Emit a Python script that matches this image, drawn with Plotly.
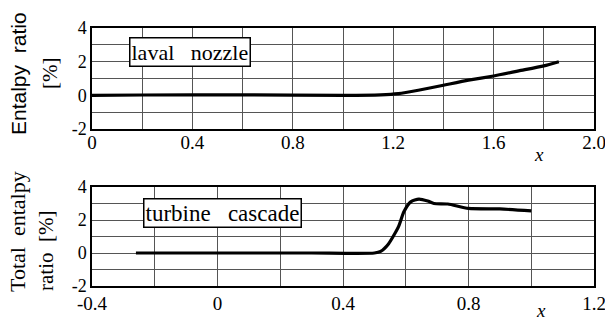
import plotly.graph_objects as go

# Top panel: laval nozzle
nozzle_x = [0.0, 0.2, 0.6, 1.0, 1.15, 1.22, 1.3, 1.4, 1.5, 1.6, 1.7, 1.8, 1.86]
nozzle_y = [0.0, 0.02, 0.03, 0.0, 0.03, 0.1, 0.3, 0.6, 0.9, 1.15, 1.45, 1.75, 2.0]

# Bottom panel: turbine cascade
cascade_x = [-0.26, 0.0, 0.3, 0.5, 0.52, 0.545, 0.577, 0.594, 0.616, 0.642, 0.67, 0.69, 0.734, 0.8, 0.9, 1.0]
cascade_y = [0.0, 0.0, 0.0, 0.0, 0.1, 0.55, 1.6, 2.5, 3.1, 3.27, 3.15, 3.0, 2.97, 2.7, 2.67, 2.55]

top_xticks = [0, 0.4, 0.8, 1.2, 1.6, 2.0]
top_xlabels = ["0", "0.4", "0.8", "1.2", "1.6", "2.0"]
bot_xticks = [-0.4, 0, 0.4, 0.8, 1.2]
bot_xlabels = ["-0.4", "0", "0.4", "0.8", "1.2"]
yticks = [-2, 0, 2, 4]
ylabels = ["-2", "0", "2", "4"]

W, H = 605, 321
def px(xp):
    return xp / W
def py(yp):
    return 1 - yp / H

serif = "Liberation Serif, Times New Roman, serif"
sans = "Liberation Sans, Arial, sans-serif"

fig = go.Figure()
fig.add_trace(go.Scatter(x=nozzle_x, y=nozzle_y, mode="lines",
                         line=dict(color="black", width=3.2, shape="spline", smoothing=0.6),
                         xaxis="x", yaxis="y", showlegend=False))
fig.add_trace(go.Scatter(x=cascade_x, y=cascade_y, mode="lines",
                         line=dict(color="black", width=3.2, shape="spline", smoothing=0.6),
                         xaxis="x2", yaxis="y2", showlegend=False))

def axis(size, **kw):
    d = dict(showline=True, mirror=True, linecolor="black", linewidth=1.5,
             ticks="", zeroline=False, showgrid=True, gridcolor="#555", gridwidth=1,
             automargin=False, ticklabeloverflow="allow",
             tickfont=dict(family=serif, size=size, color="black"))
    d.update(kw)
    return d

minor_x = dict(dtick=0.2, tick0=0, showgrid=True, gridcolor="#555", gridwidth=1)
minor_y = dict(dtick=1, tick0=0, showgrid=True, gridcolor="#555", gridwidth=1)

fig.update_layout(
    width=W, height=H,
    margin=dict(l=0, r=0, t=0, b=0, pad=0),
    paper_bgcolor="white", plot_bgcolor="white",
    font=dict(family=serif, size=17, color="black"),
    xaxis=axis(19, domain=[px(92), px(594)], range=[0, 2.0], anchor="y",
               tickvals=top_xticks, ticktext=top_xlabels, minor=minor_x,
               ticklabelstandoff=-5),
    yaxis=axis(18, domain=[py(129), py(28)], range=[-2, 4], anchor="x",
               tickvals=yticks, ticktext=ylabels, minor=minor_y),
    xaxis2=axis(19, domain=[px(92), px(594)], range=[-0.4, 1.2], anchor="y2",
                tickvals=bot_xticks, ticktext=bot_xlabels, minor=minor_x,
                ticklabelstandoff=-1),
    yaxis2=axis(18, domain=[py(286), py(187)], range=[-2, 4], anchor="x2",
                tickvals=yticks, ticktext=ylabels, minor=minor_y),
)

def note(text, x, y, family=serif, size=17, angle=0, **kw):
    return dict(text=text, x=px(x), y=py(y), xref="paper", yref="paper",
                xanchor="center", yanchor="middle", showarrow=False, textangle=angle,
                font=dict(family=family, size=size, color="black"), **kw)

ann = [
    note("laval   nozzle", 190, 52, size=22, bgcolor="white", bordercolor="black", borderwidth=1.5, borderpad=1),
    note("turbine   cascade", 222, 213, size=23, bgcolor="white", bordercolor="black", borderwidth=1.5, borderpad=1),
    note("Entalpy  ratio", 18, 74, family=sans, size=21, angle=-90),
    note("[%]", 50, 74, size=21, angle=-90),
    note("Total  entalpy", 17, 232, size=22, angle=-90),
    note("ratio  [%]", 46, 251, size=21, angle=-90),
    note("<i>x</i>", 539, 154, size=19),
    note("<i>x</i>", 541, 310, size=19),
]
fig.update_layout(annotations=ann)

fig.write_html("out.html",
               post_script="document.body.style.margin='0';document.body.style.overflow='hidden';")
